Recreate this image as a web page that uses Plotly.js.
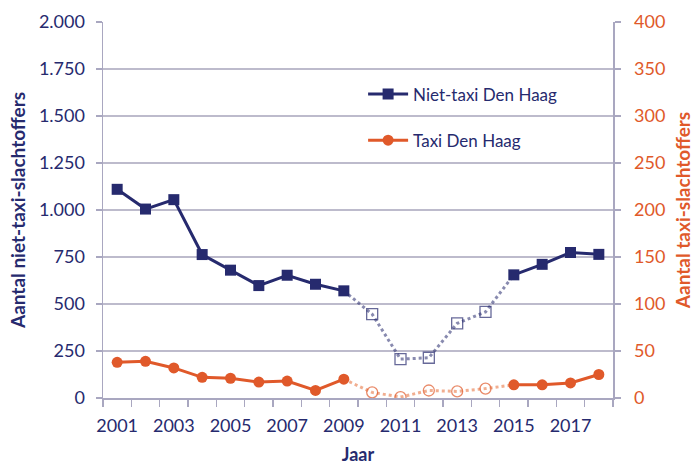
<!DOCTYPE html>
<html>
<head>
<meta charset="utf-8">
<script src="https://cdn.plot.ly/plotly-3.0.1.min.js"></script>
<style>html,body{margin:0;padding:0;background:#fff;}#chart{width:694px;height:466px;}</style>
</head>
<body>
<div id="chart"></div>
<script>
const years = [2001,2002,2003,2004,2005,2006,2007,2008,2009,2010,2011,2012,2013,2014,2015,2016,2017,2018];
const nietTaxi = [1110,1005,1055,763,680,598,653,605,570,446,207,214,397,458,655,711,774,764];
const taxi = [38,39,32,22,21,17,18,8,20,6,1,8,7,10,14,14,16,25];
const estimatedYears = [2010,2011,2012,2013,2014];
const xTickLabels = ['2001','2003','2005','2007','2009','2011','2013','2015','2017'];
const seriesNames = ['Niet-taxi Den Haag','Taxi Den Haag'];

const NAVY = '#262a6e';
const ORANGE = '#e0592a';
const FONT = 'Lato, "Open Sans", sans-serif';

const isEst = y => estimatedYears.includes(y);
const firstEst = years.indexOf(estimatedYears[0]);
const lastEst = years.indexOf(estimatedYears[estimatedYears.length-1]);

function solidVals(arr){ return arr.map((v,i)=> isEst(years[i]) ? null : v); }
function dotYears(){ return years.slice(firstEst-1, lastEst+2); }
function dotVals(arr){ return arr.slice(firstEst-1, lastEst+2); }
function dotSizes(sz){ return dotYears().map(y => isEst(y) ? sz : 0); }

const traces = [
  {x: dotYears(), y: dotVals(nietTaxi), type:'scatter', mode:'lines+markers', yaxis:'y',
   line:{color:'rgba(38,42,110,0.55)', width:3, dash:'dot'},
   marker:{symbol:'square-open', size:dotSizes(11), color:NAVY, line:{width:1.3, color:NAVY}},
   showlegend:false, hoverinfo:'skip'},
  {x: dotYears(), y: dotVals(taxi), type:'scatter', mode:'lines+markers', yaxis:'y2',
   line:{color:'rgba(232,120,70,0.6)', width:3, dash:'dot'},
   marker:{symbol:'circle-open', size:dotSizes(11), color:ORANGE, line:{width:1.3, color:ORANGE}},
   showlegend:false, hoverinfo:'skip'},
  {x: years, y: solidVals(nietTaxi), name: seriesNames[0], type:'scatter', mode:'lines+markers', yaxis:'y',
   line:{color:NAVY, width:3}, marker:{symbol:'square', size:11, color:NAVY},
   connectgaps:false, legendgroup:'a'},
  {x: years, y: solidVals(taxi), name: seriesNames[1], type:'scatter', mode:'lines+markers', yaxis:'y2',
   line:{color:ORANGE, width:3}, marker:{symbol:'circle', size:11, color:ORANGE},
   connectgaps:false, legendgroup:'b'}
];

const layout = {
  width:694, height:466,
  margin:{l:103, r:81, t:22, b:68},
  paper_bgcolor:'#fff', plot_bgcolor:'#fff',
  separators:',.',
  font:{family:FONT, color:NAVY, size:18},
  showlegend:true,
  legend:{x:0.51, y:0.855, xanchor:'left', yanchor:'top', bgcolor:'rgba(0,0,0,0)',
          font:{size:17, color:NAVY, family:FONT}, tracegroupgap:21, itemwidth:40},
  xaxis:{range:[2000.5,2018.5], tickvals: xTickLabels.map(Number), ticktext: xTickLabels,
         ticks:'', showgrid:false, zeroline:false, showline:true, linecolor:'#a9a7c0', linewidth:1.5,
         tickfont:{size:18, color:NAVY}, ticklabelstandoff:11,
         minor:{ticks:'outside', tick0:2000.5, dtick:1, ticklen:7, tickcolor:'#a9a7c0', tickwidth:1.5, showgrid:false},
         title:{text:'<b>Jaar</b>', font:{size:18, color:NAVY}, standoff:13}},
  yaxis:{range:[0,2000], dtick:250, tickformat:',d', ticks:'outside', ticklen:6, tickcolor:'#a9a7c0', tickwidth:1.5,
         showgrid:true, gridcolor:'#bdbbcc', gridwidth:1.5, zeroline:false, showline:true, linecolor:'#a9a7c0', linewidth:1.5,
         tickfont:{size:18, color:NAVY}, ticklabelstandoff:7,
         title:{text:'<b>Aantal niet-taxi-slachtoffers</b>', font:{size:19, color:NAVY}, standoff:8}},
  yaxis2:{range:[0,400], dtick:50, overlaying:'y', side:'right', ticks:'outside', ticklen:6, tickcolor:'#a9a7c0', tickwidth:1.5,
          showgrid:false, zeroline:false, showline:true, linecolor:'#a9a7c0', linewidth:1.5,
          tickfont:{size:18, color:ORANGE}, ticklabelstandoff:10,
          title:{text:'<b>Aantal taxi-slachtoffers</b>', font:{size:19, color:ORANGE}, standoff:12}}
};

Plotly.newPlot('chart', traces, layout, {staticPlot:true, displayModeBar:false});
</script>
</body>
</html>
